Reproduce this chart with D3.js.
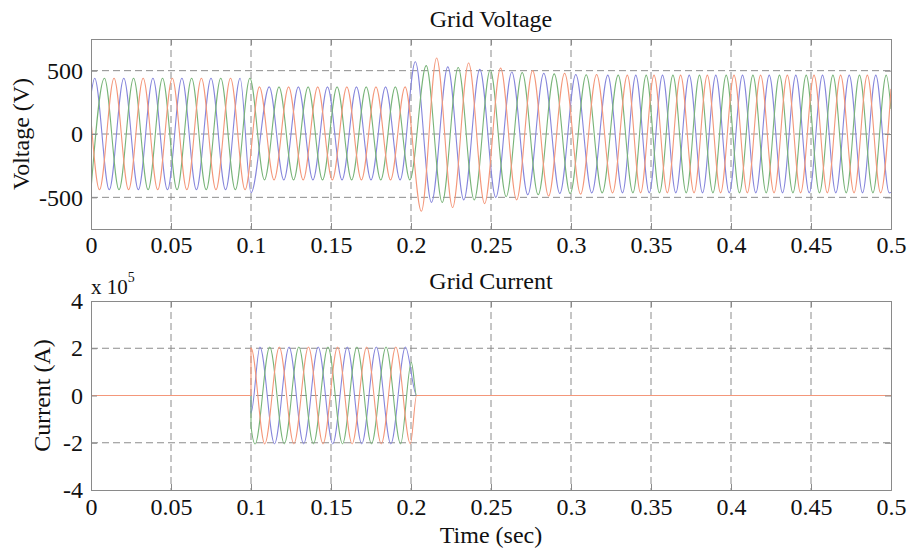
<!DOCTYPE html>
<html>
<head>
<meta charset="utf-8">
<script src="https://cdn.jsdelivr.net/npm/d3@7"></script>
<style>
  body { margin: 0; background: #fff; }
  text { font-family: "Liberation Serif", "Times New Roman", serif; fill: #111; }
</style>
</head>
<body>
<svg width="909" height="550"></svg>
<script>
// tick labels
const TIME_TICKS = [0, 0.05, 0.1, 0.15, 0.2, 0.25, 0.3, 0.35, 0.4, 0.45, 0.5];
const VOLT_TICKS = [-500, 0, 500];
const CURR_TICKS = [-4e5, -2e5, 0, 2e5, 4e5];

// voltage extrema, [time s, volts]
const voltBlue = [
  [0,308],[0.0023,440],[0.0114,-440],[0.0205,440],[0.0296,-440],[0.0387,440],[0.0478,-440],[0.0568,440],[0.0659,-440],
  [0.0750,440],[0.0841,-440],[0.0932,440],[0.1000,-464],[0.1114,372],[0.1205,-362],[0.1296,372],[0.1387,-362],
  [0.1478,372],[0.1569,-362],[0.1659,372],[0.1750,-362],[0.1841,372],[0.1932,-362],
  [0.2027,570],[0.2128,-540],[0.2230,530],[0.2330,-520],[0.2430,510],[0.2530,-500],[0.2630,490],[0.2730,-480],
  [0.2830,480],[0.2930,-470],[0.3030,470],[0.3130,-465],[0.3230,465],
  [0.3322,-465],[0.3405,465],[0.3489,-465],[0.3572,465],[0.3655,-465],[0.3739,465],[0.3822,-465],[0.3905,465],
  [0.3989,-465],[0.4072,465],[0.4155,-465],[0.4239,465],[0.4322,-465],[0.4405,465],[0.4489,-465],[0.4572,465],
  [0.4655,-465],[0.4739,465],[0.4822,-465],[0.4905,465],[0.4989,-465],[0.5,-462]
];
const voltGreen = [
  [0,-440],[0.0084,440],[0.0175,-440],[0.0266,440],[0.0357,-440],[0.0447,440],[0.0538,-440],[0.0629,440],[0.0720,-440],
  [0.0811,440],[0.0902,-440],[0.0993,440],[0.1084,-362],[0.1175,372],[0.1266,-362],[0.1357,372],[0.1447,-362],
  [0.1538,372],[0.1629,-362],[0.1720,372],[0.1811,-362],[0.1902,372],[0.1993,-362],
  [0.2095,540],[0.2195,-540],[0.2295,525],[0.2395,-520],[0.2495,505],[0.2595,-495],[0.2695,485],[0.2795,-480],
  [0.2895,475],[0.2995,-470],[0.3095,468],[0.3195,-465],[0.3295,465],
  [0.3387,-465],[0.3470,465],[0.3553,-465],[0.3637,465],[0.3720,-465],[0.3803,465],[0.3887,-465],[0.3970,465],
  [0.4053,-465],[0.4137,465],[0.4220,-465],[0.4303,465],[0.4387,-465],[0.4470,465],[0.4553,-465],[0.4637,465],
  [0.4720,-465],[0.4803,465],[0.4887,-465],[0.4970,465],[0.5,197]
];
const voltOrange = [
  [0,114],[0.0053,-440],[0.0144,440],[0.0235,-440],[0.0326,440],[0.0417,-440],[0.0508,440],[0.0599,-440],[0.0690,440],
  [0.0781,-440],[0.0872,440],[0.0963,-440],[0.1053,372],[0.1144,-362],[0.1235,372],[0.1326,-362],[0.1417,372],
  [0.1508,-362],[0.1599,372],[0.1690,-362],[0.1781,372],[0.1872,-362],[0.1963,372],
  [0.2065,-610],[0.2160,600],[0.2260,-580],[0.2360,560],[0.2460,-550],[0.2560,520],[0.2660,-520],[0.2760,500],
  [0.2860,-490],[0.2960,480],[0.3060,-475],[0.3160,470],[0.3260,-465],
  [0.3352,465],[0.3435,-465],[0.3519,465],[0.3602,-465],[0.3685,465],[0.3769,-465],[0.3852,465],[0.3935,-465],
  [0.4019,465],[0.4102,-465],[0.4185,465],[0.4269,-465],[0.4352,465],[0.4435,-465],[0.4519,465],[0.4602,-465],
  [0.4685,465],[0.4769,-465],[0.4852,465],[0.4935,-465],[0.5,356]
];

// current extrema, [time s, amps]
const currBlue = [
  [0,0],[0.1,0],[0.1,-74000],[0.1056,205000],[0.1147,-205000],[0.1238,205000],[0.1329,-205000],[0.1420,205000],
  [0.1511,-205000],[0.1602,205000],[0.1692,-205000],[0.1783,205000],[0.1874,-205000],[0.1965,205000],
  [0.2035,0],[0.5,0]
];
const currGreen = [
  [0,0],[0.1,0],[0.1,-129000],[0.1026,-205000],[0.1117,205000],[0.1208,-205000],[0.1299,205000],[0.1390,-205000],
  [0.1481,205000],[0.1572,-205000],[0.1662,205000],[0.1753,-205000],[0.1844,205000],[0.1935,-205000],
  [0.2002,140000],[0.2035,0],[0.5,0]
];
const currOrange = [
  [0,0],[0.1,0],[0.1,202000],[0.1086,-205000],[0.1177,205000],[0.1268,-205000],[0.1359,205000],[0.1450,-205000],
  [0.1541,205000],[0.1632,-205000],[0.1723,205000],[0.1814,-205000],[0.1905,205000],[0.1996,-205000],
  [0.2035,0],[0.5,0]
];

const COLORS = ['#8686dc', '#78b478', '#f4977a'];
const FONT = '24px';

const svg = d3.select('svg');

function panel(top, bottom, yDomain, yTicks, tickFmt, series, opts) {
  const x = d3.scaleLinear().domain([0, 0.5]).range([91, 891]);
  const y = d3.scaleLinear().domain(yDomain).range([bottom, top]);
  const g = svg.append('g');
  const id = 'clip' + top;

  g.append('clipPath').attr('id', id).append('rect')
    .attr('x', 91).attr('y', top).attr('width', 800).attr('height', bottom - top);

  // dashed grid
  g.selectAll('.vg').data(TIME_TICKS.slice(1, -1)).enter().append('line')
    .attr('x1', d => x(d)).attr('x2', d => x(d)).attr('y1', top).attr('y2', bottom)
    .attr('stroke', '#8c8c8c').attr('stroke-dasharray', '7,4');
  g.selectAll('.hg').data(yTicks.filter(d => d > yDomain[0] && d < yDomain[1])).enter().append('line')
    .attr('x1', 91).attr('x2', 891).attr('y1', d => y(d)).attr('y2', d => y(d))
    .attr('stroke', '#8c8c8c').attr('stroke-dasharray', '7,4');

  const line = d3.line().x(d => x(d[0])).y(d => y(d[1])).curve(d3.curveMonotoneX);
  g.append('g').attr('clip-path', `url(#${id})`)
    .selectAll('path').data(series).enter().append('path')
    .attr('d', d => line(d))
    .attr('fill', 'none')
    .attr('stroke', (d, i) => COLORS[i])
    .attr('stroke-width', 1.1);

  // box with inward ticks, MATLAB style
  const axB = g.append('g').attr('transform', `translate(0,${bottom})`)
    .call(d3.axisBottom(x).tickValues(TIME_TICKS).tickSize(-6).tickPadding(opts.xPad).tickFormat(d => String(d)));
  const axT = g.append('g').attr('transform', `translate(0,${top})`)
    .call(d3.axisTop(x).tickValues(TIME_TICKS).tickSize(-6).tickFormat(''));
  const axL = g.append('g').attr('transform', 'translate(91,0)')
    .call(d3.axisLeft(y).tickValues(yTicks).tickSize(-6).tickPadding(8).tickFormat(tickFmt));
  const axR = g.append('g').attr('transform', 'translate(891,0)')
    .call(d3.axisRight(y).tickValues(yTicks).tickSize(-6).tickFormat(''));
  [axB, axT, axL, axR].forEach(a => {
    a.selectAll('path, line').attr('stroke', '#8a8a8a');
    a.selectAll('text').style('font-size', FONT).attr('fill', '#111');
  });

  g.append('text').attr('x', 491).attr('y', top - 12).attr('text-anchor', 'middle')
    .style('font-size', FONT).text(opts.title);
  g.append('text')
    .attr('transform', `translate(${opts.ylabelX},${(top + bottom) / 2}) rotate(-90)`)
    .attr('text-anchor', 'middle').style('font-size', FONT).text(opts.ylabel);
  if (opts.xlabel) {
    g.append('text').attr('x', 491).attr('y', bottom + 53).attr('text-anchor', 'middle')
      .style('font-size', FONT).text(opts.xlabel);
  }
  return g;
}

panel(39, 229, [-750, 750], VOLT_TICKS, d => String(d),
  [voltBlue, voltGreen, voltOrange],
  {title: 'Grid Voltage', ylabel: 'Voltage (V)', ylabelX: 29, xPad: 7});

const pc = panel(301, 490, [-4e5, 4e5], CURR_TICKS, d => String(d / 1e5),
  [currBlue, currGreen, currOrange],
  {title: 'Grid Current', ylabel: 'Current (A)', ylabelX: 50, xPad: 8, xlabel: 'Time (sec)'});

// exponent label above the current axis
const ex = pc.append('text').attr('x', 91).attr('y', 294).style('font-size', '21px');
ex.append('tspan').text('x 10');
ex.append('tspan').attr('dy', -12).style('font-size', '14px').text('5');
</script>
</body>
</html>
